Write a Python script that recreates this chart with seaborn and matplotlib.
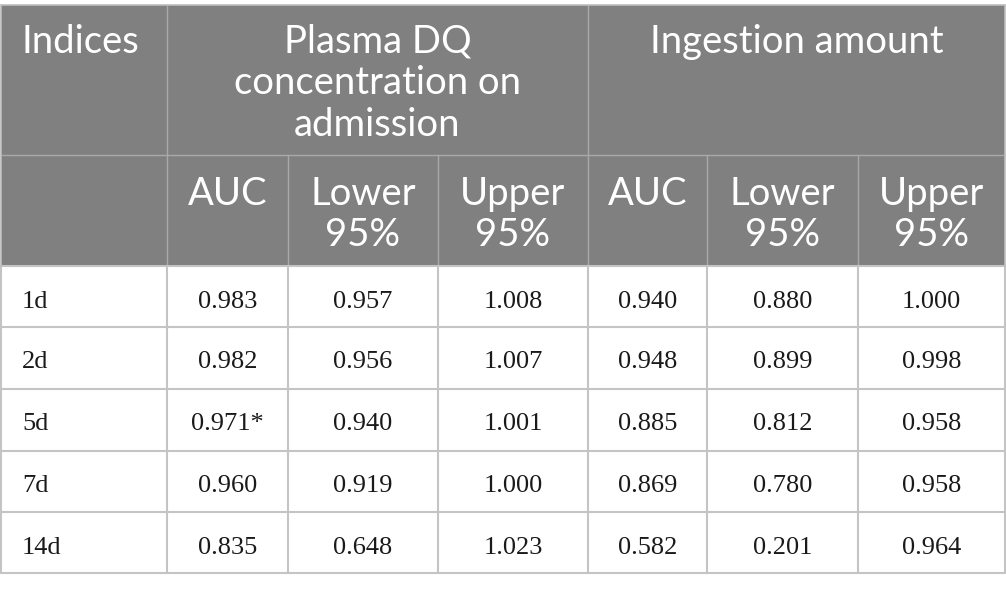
import matplotlib
matplotlib.use('Agg')
import matplotlib.pyplot as plt
import seaborn as sns
from matplotlib.patches import Rectangle

# ---- data ----
indices = ['1d', '2d', '5d', '7d', '14d']
plasma_auc = [0.983, 0.982, 0.971, 0.960, 0.835]
plasma_auc_marks = ['', '', '*', '', '']
plasma_lower = [0.957, 0.956, 0.940, 0.919, 0.648]
plasma_upper = [1.008, 1.007, 1.001, 1.000, 1.023]
ingest_auc = [0.940, 0.948, 0.885, 0.869, 0.582]
ingest_lower = [0.880, 0.899, 0.812, 0.780, 0.201]
ingest_upper = [1.000, 0.998, 0.958, 0.958, 0.964]
first_header = 'Indices'
group_headers = [['Plasma DQ', 'concentration on', 'admission'], ['Ingestion amount']]
sub_headers = [['AUC'], ['Lower', '95%'], ['Upper', '95%']]

sns.set_theme(style='white')
plt.rcParams['font.family'] = ['Lato', 'DejaVu Sans']

W, H = 1006, 592
fig = plt.figure(figsize=(W / 100, H / 100), dpi=100)
ax = fig.add_axes([0, 0, 1, 1])
ax.set_xlim(0, W)
ax.set_ylim(H, 0)
ax.axis('off')

col_edges = [1, 167, 288, 438, 588, 707, 858, 1005]
row_edges = [5, 155, 266, 327, 389, 451, 512, 573]

hdr_bg = '#808080'
hdr_line = '#a9a9a9'
body_line = '#c4c4c4'

# header background
ax.add_patch(Rectangle((col_edges[0], row_edges[0]), col_edges[-1] - col_edges[0],
                       row_edges[2] - row_edges[0], facecolor=hdr_bg, edgecolor='none', zorder=1))

# header lines
ax.plot([col_edges[0], col_edges[-1]], [row_edges[1]] * 2, color=hdr_line, lw=1.0, zorder=2)
for x in [col_edges[1], col_edges[4]]:
    ax.plot([x, x], [row_edges[0], row_edges[2]], color=hdr_line, lw=1.0, zorder=2)
for x in [col_edges[2], col_edges[3], col_edges[5], col_edges[6]]:
    ax.plot([x, x], [row_edges[1], row_edges[2]], color=hdr_line, lw=1.0, zorder=2)
# outer top line
ax.plot([col_edges[0], col_edges[-1]], [row_edges[0]] * 2, color='#bdbdbd', lw=1.2, zorder=3)

# body lines
for y in row_edges[2:]:
    ax.plot([col_edges[0], col_edges[-1]], [y, y], color=body_line, lw=1.5, zorder=2)
for x in col_edges:
    ax.plot([x, x], [row_edges[2], row_edges[-1]], color=body_line, lw=1.5, zorder=2)
for x in [col_edges[0], col_edges[-1]]:
    ax.plot([x, x], [row_edges[0], row_edges[2]], color='#bdbdbd', lw=1.2, zorder=3)

hdr_kw = dict(color='white', fontsize=27.5, family=['Lato', 'DejaVu Sans'], va='baseline', zorder=4)
line_gap = 41.5

# header row 1
ax.text(22, 53, first_header, ha='left', **hdr_kw)
spans = [(col_edges[1], col_edges[4]), (col_edges[4], col_edges[7])]
for (x0, x1), lines in zip(spans, group_headers):
    for i, ln in enumerate(lines):
        ax.text((x0 + x1) / 2, 53 + i * line_gap, ln, ha='center', **hdr_kw)

# header row 2
for g in range(2):
    for j, lines in enumerate(sub_headers):
        c = 1 + g * 3 + j
        xc = (col_edges[c] + col_edges[c + 1]) / 2
        for i, ln in enumerate(lines):
            ax.text(xc, 205 + i * 41, ln, ha='center', **hdr_kw)

# body
body_kw = dict(color='#1a1a1a', fontsize=19, family=['Liberation Serif', 'DejaVu Serif'],
               va='baseline', zorder=4)
columns = [
    [f'{v:.3f}{m}' for v, m in zip(plasma_auc, plasma_auc_marks)],
    [f'{v:.3f}' for v in plasma_lower],
    [f'{v:.3f}' for v in plasma_upper],
    [f'{v:.3f}' for v in ingest_auc],
    [f'{v:.3f}' for v in ingest_lower],
    [f'{v:.3f}' for v in ingest_upper],
]
for r, name in enumerate(indices):
    yb = row_edges[2 + r] + 41.5
    ax.text(22, yb, name, ha='left', **body_kw)
    for c, col in enumerate(columns):
        xc = (col_edges[c + 1] + col_edges[c + 2]) / 2
        ax.text(xc, yb, col[r], ha='center', **body_kw)

fig.savefig('out.png', dpi=100, facecolor='white')
